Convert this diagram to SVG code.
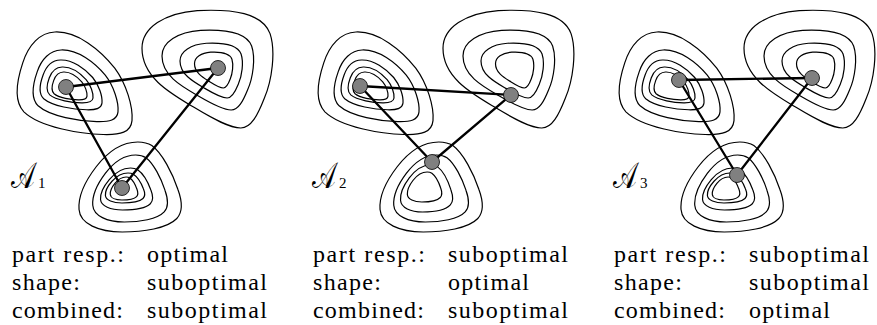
<svg xmlns="http://www.w3.org/2000/svg" xmlns:xlink="http://www.w3.org/1999/xlink" width="877" height="325" viewBox="0 0 877 325">
<style>
.c{fill:none;stroke:#000;stroke-width:1.2;vector-effect:non-scaling-stroke}
.e{stroke:#000;stroke-width:2.3;stroke-linecap:round;fill:none}
.n{fill:#808080;stroke:#000;stroke-width:0.8}
.t{font-family:"Liberation Serif",serif;font-size:24px;fill:#000}
.lab{font-family:"Liberation Serif",serif;font-size:37px;fill:#000}
.sub{font-family:"Liberation Serif",serif;font-size:15px;fill:#000}
</style>
<defs>
<path id="L" class="c" d="M -34,-100 C 5,-102 45,-65 70,-30 C 90,0 102,45 100,72 C 98,95 80,100 50,99 C 10,98 -60,85 -88,55 C -105,35 -102,0 -90,-40 C -80,-75 -60,-99 -34,-100 Z"/>
<path id="R" class="c" d="M -100,-35 C -100,-70 -65,-95 -15,-99 C 40,-102 85,-95 97,-60 C 106,-30 100,20 88,50 C 78,78 68,100 52,100 C 35,100 10,85 -20,65 C -55,42 -100,15 -100,-35 Z"/>
<path id="B" class="c" d="M 15,-100 C -20,-100 -45,-75 -65,-45 C -85,-15 -100,20 -98,50 C -96,82 -60,100 -15,100 C 25,100 72,92 90,70 C 102,55 100,30 92,5 C 82,-30 62,-75 42,-92 C 34,-98 24,-100 15,-100 Z"/>
<g id="blobL">
<use xlink:href="#L" transform="translate(74.5,83.5) scale(0.575,0.515)"/>
<use xlink:href="#L" transform="translate(75.5,86) scale(0.425,0.36)"/>
<use xlink:href="#L" transform="translate(71,85) scale(0.31,0.25)"/>
<use xlink:href="#L" transform="translate(70,85) scale(0.23,0.18)"/>
<use xlink:href="#L" transform="translate(69.5,86) scale(0.175,0.14)"/>
</g>
<g id="blobR">
<use xlink:href="#R" transform="translate(207,69) scale(0.65,0.59)"/>
<use xlink:href="#R" transform="translate(207.5,70) scale(0.455,0.40)"/>
<use xlink:href="#R" transform="translate(211,70.5) scale(0.31,0.275)"/>
<use xlink:href="#R" transform="translate(213.5,70) scale(0.19,0.18)"/>
</g>
<g id="blobB">
<use xlink:href="#B" transform="translate(130,187) scale(0.52,0.45)"/>
<use xlink:href="#B" transform="translate(130,188.5) scale(0.38,0.335)"/>
<use xlink:href="#B" transform="translate(126.5,189) scale(0.265,0.21)"/>
<use xlink:href="#B" transform="translate(125,188) scale(0.20,0.15)"/>
<use xlink:href="#B" transform="translate(124,188.5) scale(0.14,0.115)"/>
</g>
<g id="blobB2">
<use xlink:href="#B" transform="translate(130,187) scale(0.52,0.45)"/>
<use xlink:href="#B" transform="translate(130,188.5) scale(0.38,0.335)"/>
<use xlink:href="#B" transform="translate(125.5,188.5) scale(0.265,0.235)"/>
<use xlink:href="#B" transform="translate(123.5,187) scale(0.175,0.15)"/>
</g>
</defs>

<!-- Panel 1 -->
<g id="panel1">
<g id="p1-contours"><use xlink:href="#blobL"/><use xlink:href="#blobR"/><use xlink:href="#blobB"/></g>
<g id="p1-connectors">
<line class="e" x1="66" y1="87" x2="218" y2="68"/>
<line class="e" x1="66" y1="87" x2="122" y2="188"/>
<line class="e" x1="218" y1="68" x2="122" y2="188"/>
</g>
<g id="p1-node-a"><circle class="n" cx="66" cy="87" r="7.5"/></g>
<g id="p1-node-b"><circle class="n" cx="218" cy="68" r="7.5"/></g>
<g id="p1-node-c"><circle class="n" cx="122" cy="188" r="7.5"/></g>
<g id="p1-label"><text class="lab" x="11" y="188" transform="translate(11,188) scale(0.68,1) translate(-11,-188)">𝒜</text><text class="sub" x="38" y="188">1</text></g>
<g id="p1-text">
<text class="t" x="12" y="262" textLength="112" lengthAdjust="spacing">part resp.:</text>
<text class="t" x="147" y="262" textLength="81" lengthAdjust="spacing">optimal</text>
<text class="t" x="12" y="290" textLength="68" lengthAdjust="spacing">shape:</text>
<text class="t" x="147" y="290" textLength="120" lengthAdjust="spacing">suboptimal</text>
<text class="t" x="12" y="318" textLength="111" lengthAdjust="spacing">combined:</text>
<text class="t" x="147" y="318" textLength="120" lengthAdjust="spacing">suboptimal</text>
</g>
</g>

<!-- Panel 2 -->
<g id="panel2" transform="translate(301,0)">
<g id="p2-contours"><use xlink:href="#blobL"/><use xlink:href="#blobR"/><use xlink:href="#blobB2"/></g>
<g id="p2-connectors">
<line class="e" x1="59" y1="86" x2="210" y2="95"/>
<line class="e" x1="59" y1="86" x2="131" y2="162"/>
<line class="e" x1="210" y1="95" x2="131" y2="162"/>
</g>
<g id="p2-node-a"><circle class="n" cx="59" cy="86" r="7.5"/></g>
<g id="p2-node-b"><circle class="n" cx="210" cy="95" r="7.5"/></g>
<g id="p2-node-c"><circle class="n" cx="131" cy="162" r="7.5"/></g>
<g id="p2-label"><text class="lab" x="11" y="188" transform="translate(11,188) scale(0.68,1) translate(-11,-188)">𝒜</text><text class="sub" x="38" y="188">2</text></g>
<g id="p2-text">
<text class="t" x="12" y="262" textLength="112" lengthAdjust="spacing">part resp.:</text>
<text class="t" x="147" y="262" textLength="120" lengthAdjust="spacing">suboptimal</text>
<text class="t" x="12" y="290" textLength="68" lengthAdjust="spacing">shape:</text>
<text class="t" x="147" y="290" textLength="81" lengthAdjust="spacing">optimal</text>
<text class="t" x="12" y="318" textLength="111" lengthAdjust="spacing">combined:</text>
<text class="t" x="147" y="318" textLength="120" lengthAdjust="spacing">suboptimal</text>
</g>
</g>

<!-- Panel 3 -->
<g id="panel3" transform="translate(602,0)">
<g id="p3-contours"><use xlink:href="#blobL"/><use xlink:href="#blobR"/><use xlink:href="#blobB"/></g>
<g id="p3-connectors">
<line class="e" x1="77" y1="80" x2="210" y2="78"/>
<line class="e" x1="77" y1="80" x2="135" y2="175"/>
<line class="e" x1="210" y1="78" x2="135" y2="175"/>
</g>
<g id="p3-node-a"><circle class="n" cx="77" cy="80" r="7.5"/></g>
<g id="p3-node-b"><circle class="n" cx="210" cy="78" r="7.5"/></g>
<g id="p3-node-c"><circle class="n" cx="135" cy="175" r="7.5"/></g>
<g id="p3-label"><text class="lab" x="11" y="188" transform="translate(11,188) scale(0.68,1) translate(-11,-188)">𝒜</text><text class="sub" x="38" y="188">3</text></g>
<g id="p3-text">
<text class="t" x="12" y="262" textLength="112" lengthAdjust="spacing">part resp.:</text>
<text class="t" x="147" y="262" textLength="120" lengthAdjust="spacing">suboptimal</text>
<text class="t" x="12" y="290" textLength="68" lengthAdjust="spacing">shape:</text>
<text class="t" x="147" y="290" textLength="120" lengthAdjust="spacing">suboptimal</text>
<text class="t" x="12" y="318" textLength="111" lengthAdjust="spacing">combined:</text>
<text class="t" x="147" y="318" textLength="81" lengthAdjust="spacing">optimal</text>
</g>
</g>
</svg>
